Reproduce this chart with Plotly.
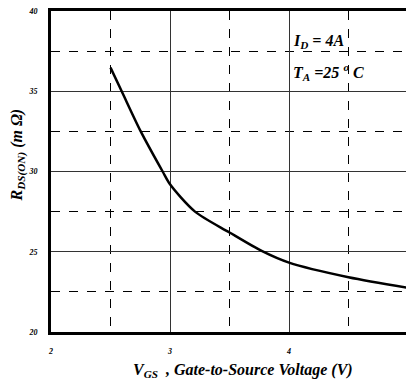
import plotly.graph_objects as go

# Data
vgs = [2.5, 2.594, 2.754, 2.938, 3.0, 3.21, 3.5, 3.77, 4.0, 4.5, 5.0]
rds = [36.47, 35.0, 32.5, 30.0, 29.2, 27.5, 26.2, 25.05, 24.32, 23.41, 22.75]
x_ticks = [2, 3, 4]
y_ticks = [20, 25, 30, 35, 40]

FONT = "Times New Roman, Liberation Serif, serif"

fig = go.Figure()
fig.add_trace(go.Scatter(x=vgs, y=rds, mode="lines",
                         line=dict(color="black", width=2.5, shape="spline", smoothing=0.8),
                         showlegend=False, hoverinfo="skip"))

tickfont = dict(family=FONT, size=8, color="black", weight="bold", style="italic")

fig.update_xaxes(range=[2, 4.983], tickvals=x_ticks, ticktext=[str(v) for v in x_ticks],
                 showgrid=True, gridcolor="#333", gridwidth=1,
                 minor=dict(dtick=0.5, showgrid=True, griddash="dash", gridcolor="black", gridwidth=1),
                 showline=True, linecolor="black", linewidth=3, mirror=True,
                 ticks="", ticklabelstandoff=9, tickfont=tickfont, zeroline=False)
fig.update_yaxes(range=[20, 40], tickvals=y_ticks, ticktext=[str(v) for v in y_ticks],
                 showgrid=True, gridcolor="#333", gridwidth=1,
                 minor=dict(dtick=2.5, showgrid=True, griddash="dash", gridcolor="black", gridwidth=1),
                 showline=True, linecolor="black", linewidth=3, mirror=False,
                 ticks="", ticklabelstandoff=9, tickfont=tickfont, zeroline=False)

ann_font = dict(family=FONT, size=16, color="black", weight="bold", style="italic")
fig.add_annotation(x=5, y=0, xref="x", yref="paper", text="5", showarrow=False,
                   yshift=-15, font=tickfont)
fig.add_annotation(x=0, y=0.55, xref="paper", yref="paper", xanchor="center", yanchor="middle",
                   xshift=-33, text="<b><i>R<sub>DS(ON)</sub> (m Ω)</i></b>", textangle=-90,
                   showarrow=False, font=ann_font)
fig.add_annotation(x=0.54, y=-0.085, xref="paper", yref="paper", xanchor="center", yanchor="top",
                   text="<b><i>V<sub>GS</sub>  , Gate-to-Source Voltage (V)</i></b>",
                   showarrow=False, font=ann_font)
fig.add_annotation(x=4.02, y=38.1, xref="x", yref="y", xanchor="left", yanchor="middle",
                   text="<b><i>I<sub>D</sub> = 4A</i></b>", showarrow=False, font=ann_font)
fig.add_annotation(x=4.02, y=36.2, xref="x", yref="y", xanchor="left", yanchor="middle",
                   text="<b><i>T<sub>A</sub> =25 <sup>o</sup> C</i></b>", showarrow=False,
                   font=ann_font)

fig.update_layout(width=406, height=383, margin=dict(l=51, r=0, t=11, b=51),
                  plot_bgcolor="white", paper_bgcolor="white")
fig.write_html("out.html", config={"displayModeBar": False},
               post_script="document.body.style.margin='0';document.body.style.overflow='hidden';")
